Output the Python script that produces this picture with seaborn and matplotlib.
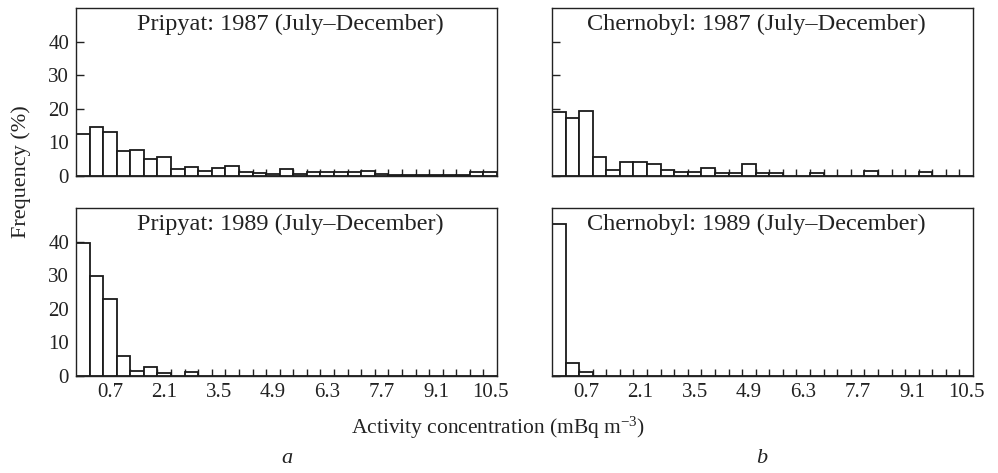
import numpy as np
import pandas as pd
import matplotlib
matplotlib.use("Agg")
import matplotlib.pyplot as plt
import seaborn as sns

# Bin layout: 31 bins of width 0.35 mBq/m3, centred on 0, 0.35, ..., 10.5
bin_width = 0.35
bin_centers = np.round(np.arange(31) * bin_width, 3)
bin_edges = np.round(np.arange(32) * bin_width - bin_width / 2, 4)

tick_values = [0.7, 2.1, 3.5, 4.9, 6.3, 7.7, 9.1, 10.5]
tick_labels = ["0.7", "2.1", "3.5", "4.9", "6.3", "7.7", "9.1", "10.5"]
y_ticks = [0, 10, 20, 30, 40]

# Frequency (%) per bin
pripyat_1987 = [12.4, 14.5, 12.9, 7.3, 7.8, 5.1, 5.5, 1.9, 2.5, 1.4,
                2.4, 3.0, 1.1, 0.9, 0.4, 2.1, 0.6, 1.0, 1.0, 1.0,
                1.0, 1.5, 0.5, 0.3, 0.3, 0.3, 0.3, 0.3, 0.3, 1.0, 1.0]
chernobyl_1987 = [19.0, 17.3, 19.2, 5.5, 1.8, 4.2, 4.0, 3.4, 1.6, 1.0,
                  1.2, 2.3, 0.8, 0.7, 3.4, 0.9, 0.9, 0.0, 0.0, 0.9,
                  0.0, 0.0, 0.0, 1.4, 0.0, 0.0, 0.0, 1.1, 0.0, 0.0, 0.0]
pripyat_1989 = [39.5, 29.8, 22.8, 6.0, 1.5, 2.7, 0.9, 0.0, 1.1, 0.0,
                0.0, 0.0, 0.0, 0.0, 0.0, 0.0, 0.0, 0.0, 0.0, 0.0,
                0.0, 0.0, 0.0, 0.0, 0.0, 0.0, 0.0, 0.0, 0.0, 0.0, 0.0]
chernobyl_1989 = [45.3, 3.8, 1.2, 0.0, 0.0, 0.0, 0.0, 0.0, 0.0, 0.0,
                  0.0, 0.0, 0.0, 0.0, 0.0, 0.0, 0.0, 0.0, 0.0, 0.0,
                  0.0, 0.0, 0.0, 0.0, 0.0, 0.0, 0.0, 0.0, 0.0, 0.0, 0.0]

panel_titles = ["Pripyat: 1987 (July\u2013December)",
                "Chernobyl: 1987 (July\u2013December)",
                "Pripyat: 1989 (July\u2013December)",
                "Chernobyl: 1989 (July\u2013December)"]
panel_series = [pripyat_1987, chernobyl_1987, pripyat_1989, chernobyl_1989]

sns.set_theme(style="ticks")
plt.rcParams["font.family"] = ["Liberation Serif", "DejaVu Serif"]
plt.rcParams["mathtext.fontset"] = "custom"
plt.rcParams["mathtext.rm"] = "Liberation Serif"
plt.rcParams["mathtext.it"] = "Liberation Serif:italic"

ink = "#222222"
fig = plt.figure(figsize=(9.98, 4.73), dpi=100)

W, H = 998.0, 473.0
ax_w = 421 / W
ax_h = 167.7 / H
lefts = [76 / W, 552 / W]
bottoms = [1 - 175.7 / H, 1 - 375.7 / H]
title_x = [0.145, 0.083]

for i, (title, values) in enumerate(zip(panel_titles, panel_series)):
    row, col = divmod(i, 2)
    ax = fig.add_axes([lefts[col], bottoms[row], ax_w, ax_h])
    df = pd.DataFrame({"conc": bin_centers, "freq": values})
    sns.histplot(data=df, x="conc", weights="freq",
                 binwidth=bin_width,
                 binrange=(float(bin_edges[0]), float(bin_edges[-1])),
                 stat="count", fill=True, color="white", edgecolor="#1a1a1a",
                 linewidth=1.3, alpha=1.0, ax=ax)
    ax.set_xlim(bin_edges[0], bin_edges[-1])
    ax.set_ylim(0, 50)
    ax.set_xlabel("")
    ax.set_ylabel("")
    for sp in ax.spines.values():
        sp.set_visible(True)
        sp.set_linewidth(1.0)
        sp.set_color(ink)

    ax.set_yticks(y_ticks)
    ax.tick_params(axis="y", direction="in", length=6, width=1.0,
                   color=ink, labelcolor=ink, pad=5, labelsize=15,
                   labelleft=(col == 0), left=True, right=False)

    ax.set_xticks(tick_values)
    ax.set_xticks(bin_edges[1:-1], minor=True)
    ax.tick_params(axis="x", which="major", length=0, pad=5, labelsize=15,
                   labelcolor=ink, labelbottom=(row == 1))
    ax.tick_params(axis="x", which="minor", direction="in", length=5,
                   width=1.0, color=ink, bottom=True, top=False)
    if row == 1:
        ax.set_xticklabels(tick_labels)

    ax.text(title_x[col], 0.965, title, transform=ax.transAxes,
            ha="left", va="top", fontsize=17.5, color=ink)

fig.text(0.021, 1 - 172 / H, "Frequency (%)", rotation=90, ha="center",
         va="center", fontsize=16, color=ink)
fig.text(498 / W, 1 - 428 / H, "Activity concentration (mBq m$^{-3}$)",
         ha="center", va="center", fontsize=15.5, color=ink)
fig.text(287 / W, 1 - 458 / H, "a", ha="center", va="center",
         fontsize=16, style="italic", color=ink)
fig.text(762 / W, 1 - 458 / H, "b", ha="center", va="center",
         fontsize=16, style="italic", color=ink)

fig.savefig("out.png", dpi=100, facecolor="white")
